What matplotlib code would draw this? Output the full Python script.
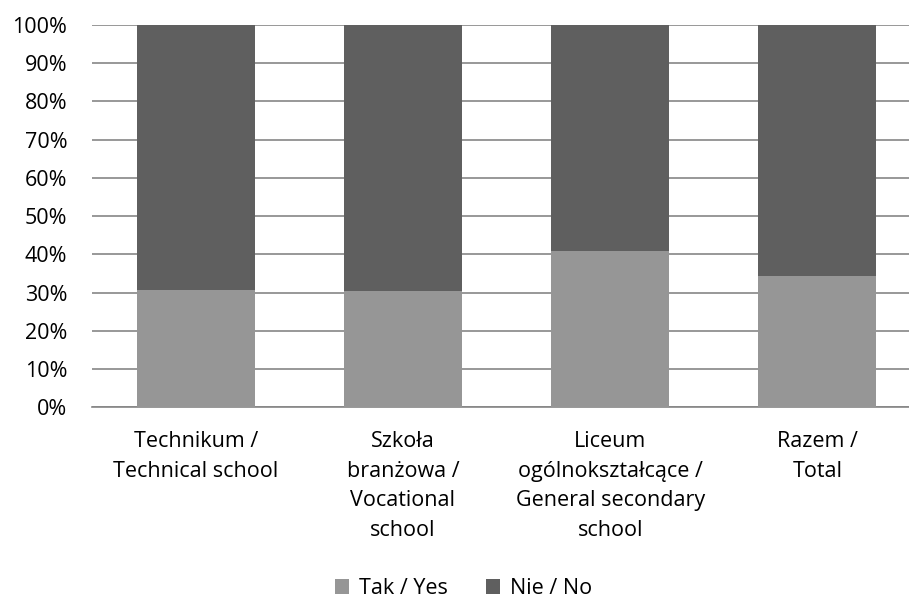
import matplotlib
matplotlib.use("Agg")
import matplotlib.pyplot as plt
import numpy as np

categories = ["Technikum /\nTechnical school",
              "Szkoła\nbranżowa /\nVocational\nschool",
              "Liceum\nogólnokształcące /\nGeneral secondary\nschool",
              "Razem /\nTotal"]
yes_share = [30.7, 30.4, 41.0, 34.3]
no_share = [100 - v for v in yes_share]
series_names = ["Tak / Yes", "Nie / No"]
yticks = [0, 10, 20, 30, 40, 50, 60, 70, 80, 90, 100]

plt.rcParams["font.family"] = ["Open Sans", "DejaVu Sans"]

fig = plt.figure(figsize=(9.09, 6.03), dpi=100)
ax = fig.add_axes([0.1014, 0.3245, 0.9118, 0.6343])

x = np.arange(len(categories))
ax.bar(x, yes_share, width=0.57, color="#969696", label=series_names[0], zorder=3)
ax.bar(x, no_share, width=0.57, bottom=yes_share, color="#5f5f5f", label=series_names[1], zorder=3)

ax.set_xlim(-0.5, len(categories) - 0.5)
ax.set_ylim(0, 100)
ax.set_yticks(yticks)
ax.set_yticklabels([f"{t}%" for t in yticks])
ax.set_xticks(x)
ax.set_xticklabels(categories, linespacing=1.54)

ax.grid(axis="y", color="#868686", linewidth=1.2, zorder=0)
for side in ["top", "right", "left"]:
    ax.spines[side].set_visible(False)
ax.spines["bottom"].set_color("#868686")
ax.spines["bottom"].set_linewidth(1.2)
ax.tick_params(axis="both", length=0, labelsize=15.5, colors="black")
ax.tick_params(axis="y", pad=18)
ax.tick_params(axis="x", pad=17)

fig.legend(loc="center", bbox_to_anchor=(0.51, 0.024), ncol=2, frameon=False,
           fontsize=15.5, handlelength=0.65, handleheight=0.65, handletextpad=0.45,
           columnspacing=1.8)

plt.savefig("out.png", dpi=100)
